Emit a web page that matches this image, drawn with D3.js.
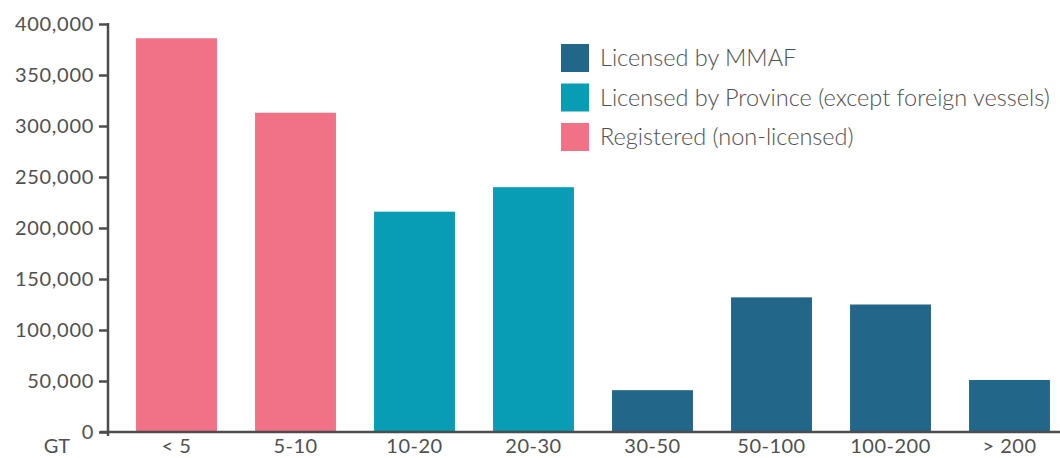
<!DOCTYPE html>
<html><head><meta charset="utf-8">
<script src="https://cdn.jsdelivr.net/npm/d3@7"></script>
<style>
body{margin:0;background:#fff;}
svg text{font-family:Lato,"Open Sans",sans-serif;fill:#505050;}
</style></head>
<body><svg id="c" width="1060" height="458"></svg>
<script>
const categories = ["< 5","5-10","10-20","20-30","30-50","50-100","100-200","> 200"];
const values = [386000,313000,216000,240000,41000,132000,125000,51000];
const groups = ["Registered (non-licensed)","Registered (non-licensed)","Licensed by Province (except foreign vessels)","Licensed by Province (except foreign vessels)","Licensed by MMAF","Licensed by MMAF","Licensed by MMAF","Licensed by MMAF"];
const legendItems = ["Licensed by MMAF","Licensed by Province (except foreign vessels)","Registered (non-licensed)"];
const legendColors = ["#226689","#089DB5","#F17187"];
const yTicks = [0,50000,100000,150000,200000,250000,300000,350000,400000];

const svg = d3.select("#c");
const color = d3.scaleOrdinal().domain(legendItems).range(legendColors);
const x = d3.scaleBand().domain(categories).range([117,1069]).paddingInner(0.32).paddingOuter(0.16);
const y = d3.scaleLinear().domain([0,400000]).range([432,24]);

svg.selectAll("rect.bar").data(values).join("rect").attr("class","bar")
  .attr("x",(d,i)=>x(categories[i])).attr("width",x.bandwidth())
  .attr("y",d=>y(d)).attr("height",d=>y(0)-y(d))
  .attr("fill",(d,i)=>color(groups[i]));

// y axis
const ya = svg.append("g").attr("transform","translate(108,0)")
  .call(d3.axisLeft(y).tickValues(yTicks).tickFormat(d3.format(",")).tickSize(9).tickPadding(5));
ya.select(".domain").attr("d","M0,"+(y(400000)-1)+"V"+(y(0)+4));
ya.selectAll("line,path").attr("stroke","#4d4d4d").attr("stroke-width",2.5);
ya.selectAll("text").attr("font-size",20).attr("fill","#505050").style("font-family","Lato").style("letter-spacing","0.7px");

// x axis line
svg.append("line").attr("x1",100).attr("x2",1060).attr("y1",y(0)).attr("y2",y(0))
  .attr("stroke","#4d4d4d").attr("stroke-width",2.5);
const xa = svg.append("g").attr("transform","translate(0,"+y(0)+")")
  .call(d3.axisBottom(x).tickSize(0).tickPadding(7));
xa.select(".domain").remove();
xa.selectAll("text").attr("font-size",20).attr("fill","#505050").style("font-family","Lato").style("letter-spacing","0.5px");

svg.append("text").attr("x",57).attr("y",453).attr("text-anchor","middle").attr("font-size",20).text("GT");

// legend
const lg = svg.append("g").attr("transform","translate(561,44)");
legendItems.forEach((t,i)=>{
  const g = lg.append("g").attr("transform","translate(0,"+(i*39.5)+")");
  g.append("rect").attr("width",28).attr("height",28).attr("fill",legendColors[i]);
  g.append("text").attr("x",39).attr("y",22).attr("font-size",23.5).attr("font-weight",300).text(t);
});
</script></body></html>
